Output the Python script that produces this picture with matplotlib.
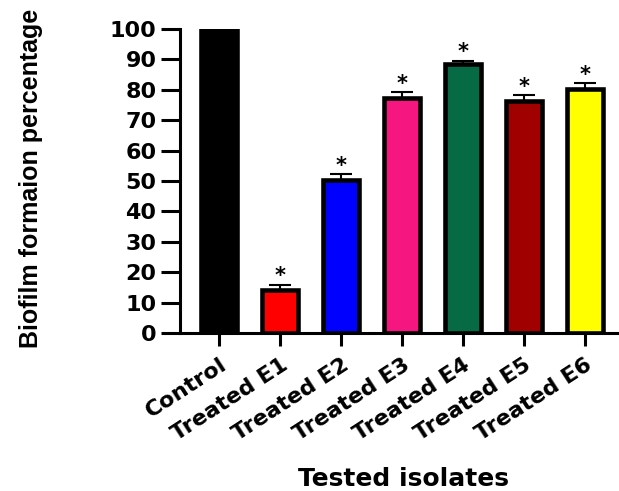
import numpy as np
import matplotlib.pyplot as plt
import matplotlib.transforms as mtransforms

# values
groups = ['Control', 'Treated E1', 'Treated E2', 'Treated E3',
          'Treated E4', 'Treated E5', 'Treated E6']
means = [100, 14.1, 50.3, 77.2, 88.6, 76.2, 80.2]
errs = [0, 1.8, 1.9, 2.0, 1.0, 2.0, 1.9]
stars = ['', '*', '*', '*', '*', '*', '*']
colors = ['#000000', '#FF0000', '#0000FF', '#F5177F',
          '#066B44', '#A00000', '#FFFF00']

fig = plt.figure(figsize=(6.19, 4.91), dpi=100)
ax = fig.add_axes([0.291, 0.322, 0.709, 0.619])

x = np.arange(len(groups))
ax.bar(x, means, width=0.6, color=colors, edgecolor='black', linewidth=3.3,
       zorder=2)
ax.errorbar(x[1:], means[1:], yerr=[np.zeros(len(x) - 1), errs[1:]],
            fmt='none', ecolor='black', elinewidth=1.5, capsize=8,
            capthick=1.5, zorder=3, clip_on=False)
for xi, m, e, s in zip(x, means, errs, stars):
    if s:
        ax.annotate(s, (xi, m + e), xytext=(0, -1), textcoords='offset points',
                    ha='center', va='bottom', fontsize=15, fontweight='bold',
                    annotation_clip=False)

ax.set_xlim(-0.64, 6.56)
ax.set_ylim(0, 100)
ax.set_yticks(np.arange(0, 101, 10))
ax.set_xticks(x)

ax.set_yticklabels([str(v) for v in range(0, 101, 10)],
                   family='DejaVu Sans', fontweight='bold', fontsize=16)
ax.set_xticklabels(groups, family='DejaVu Sans', fontweight='bold',
                   fontsize=16, rotation=33, ha='right', va='top',
                   rotation_mode='anchor')
shift = mtransforms.ScaledTranslation(12 / 72, 0, fig.dpi_scale_trans)
for lab in ax.get_xticklabels():
    lab.set_transform(lab.get_transform() + shift)

for side in ['top', 'right']:
    ax.spines[side].set_visible(False)
for side in ['left', 'bottom']:
    ax.spines[side].set_linewidth(2.2)
ax.tick_params(axis='y', length=14, width=2.2, pad=3)
ax.tick_params(axis='x', length=9.5, width=2.2, pad=6)

ax.set_ylabel('Biofilm formaion percentage', family='Liberation Sans',
              fontweight='bold', fontsize=18)
ax.yaxis.set_label_coords(-0.312, 0.51)
ax.set_xlabel('Tested isolates', family='DejaVu Sans', fontweight='bold',
              fontsize=18)
ax.xaxis.set_label_coords(0.51, -0.44)

fig.savefig('out.png', dpi=100)
